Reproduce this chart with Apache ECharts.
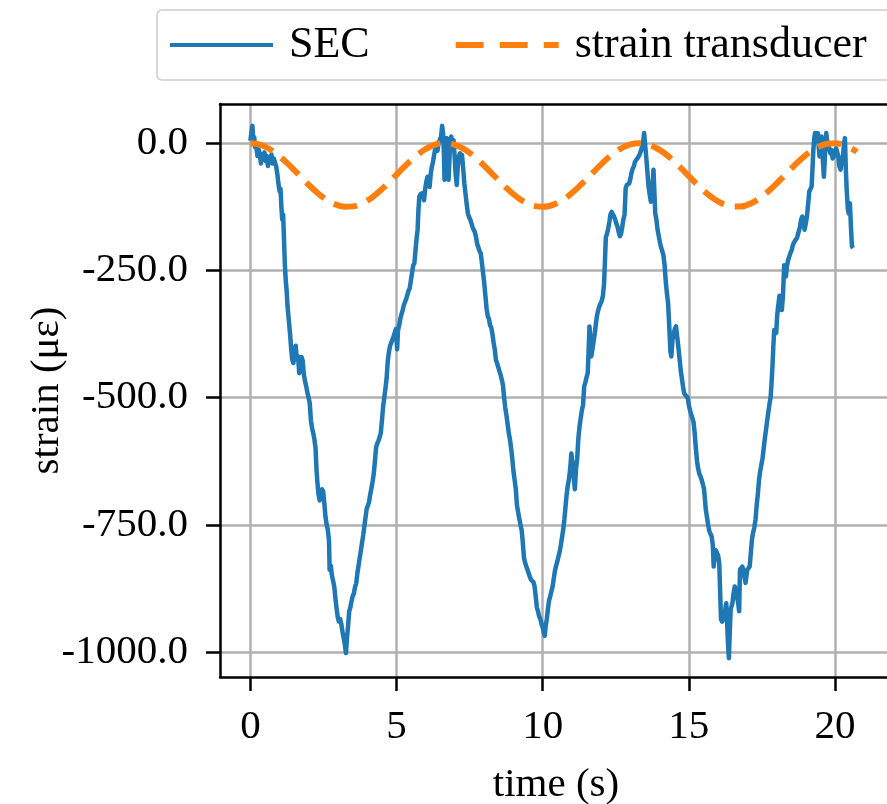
<!DOCTYPE html>
<html>
<head>
<meta charset="utf-8">
<script src="https://cdn.jsdelivr.net/npm/echarts@6/dist/echarts.min.js"></script>
<style>html,body{margin:0;padding:0;background:#fff}#c{width:887px;height:804px}</style>
</head>
<body>
<div id="c"></div>
<script>
const seriesNames = ['SEC', 'strain transducer'];
const xTicks = [0, 5, 10, 15, 20];
const yTicks = [0, -250, -500, -750, -1000];

const secData = [
[0.00,5],[0.03,20],[0.07,34],[0.10,5],[0.13,12],[0.16,-8],[0.20,-4],[0.24,-25],[0.28,-12],[0.32,-20],[0.36,-40],[0.40,-22],[0.44,-30],[0.48,-18],[0.52,-35],[0.56,-25],[0.60,-45],[0.64,-30],[0.68,-38],[0.72,-22],[0.76,-40],[0.80,-30],[0.84,-28],[0.88,-45],[0.92,-60],[0.96,-80],[1.00,-95],[1.03,-90],[1.06,-125],[1.09,-150],[1.12,-140],[1.15,-190],[1.18,-240],[1.21,-270],[1.24,-290],[1.27,-320],[1.31,-345],[1.35,-370],[1.39,-400],[1.43,-425],[1.47,-432],[1.51,-405],[1.55,-398],[1.59,-425],[1.63,-419],[1.67,-452],[1.71,-440],[1.75,-420],[1.79,-428],[1.83,-455],[1.87,-468],[1.91,-478],[1.95,-490],[1.99,-500],[2.03,-511],[2.07,-545],[2.11,-560],[2.15,-570],[2.19,-582],[2.23,-600],[2.26,-640],[2.29,-665],[2.33,-690],[2.37,-702],[2.41,-695],[2.45,-680],[2.49,-685],[2.53,-708],[2.57,-735],[2.61,-750],[2.65,-760],[2.69,-782],[2.71,-838],[2.75,-830],[2.79,-850],[2.83,-860],[2.87,-872],[2.91,-895],[2.95,-915],[2.99,-932],[3.03,-940],[3.07,-935],[3.11,-945],[3.15,-960],[3.19,-972],[3.23,-985],[3.27,-1002],[3.30,-975],[3.34,-950],[3.38,-920],[3.42,-912],[3.46,-900],[3.50,-890],[3.54,-885],[3.58,-872],[3.62,-865],[3.66,-845],[3.70,-830],[3.74,-815],[3.78,-800],[3.82,-785],[3.86,-770],[3.90,-752],[3.94,-735],[3.98,-718],[4.02,-712],[4.06,-705],[4.10,-690],[4.14,-678],[4.18,-665],[4.22,-650],[4.26,-625],[4.30,-598],[4.34,-590],[4.38,-585],[4.42,-578],[4.46,-570],[4.50,-545],[4.54,-518],[4.58,-500],[4.62,-482],[4.66,-462],[4.70,-428],[4.74,-410],[4.78,-398],[4.82,-392],[4.86,-395],[4.90,-380],[4.94,-372],[4.98,-365],[5.02,-405],[5.05,-368],[5.09,-358],[5.13,-345],[5.17,-336],[5.21,-328],[5.25,-318],[5.29,-312],[5.33,-306],[5.37,-298],[5.41,-290],[5.45,-285],[5.49,-270],[5.53,-255],[5.57,-240],[5.61,-236],[5.65,-210],[5.69,-185],[5.72,-170],[5.75,-130],[5.78,-105],[5.82,-100],[5.86,-97],[5.90,-98],[5.94,-112],[5.98,-90],[6.02,-75],[6.06,-66],[6.10,-82],[6.13,-86],[6.17,-60],[6.21,-45],[6.24,-39],[6.28,-25],[6.32,-12],[6.36,-6],[6.40,-15],[6.44,2],[6.48,6],[6.52,12],[6.56,34],[6.59,20],[6.62,-20],[6.64,-72],[6.67,-40],[6.70,5],[6.72,10],[6.75,-30],[6.78,-72],[6.81,-30],[6.84,8],[6.87,13],[6.91,-5],[6.95,6],[6.98,-20],[7.02,-60],[7.06,-82],[7.09,-50],[7.13,-26],[7.17,-20],[7.21,-30],[7.24,-23],[7.28,-50],[7.32,-79],[7.36,-100],[7.40,-120],[7.44,-138],[7.48,-145],[7.52,-150],[7.56,-157],[7.60,-165],[7.64,-168],[7.68,-175],[7.72,-185],[7.76,-198],[7.80,-205],[7.84,-212],[7.88,-216],[7.92,-235],[7.96,-255],[8.00,-275],[8.04,-300],[8.08,-325],[8.12,-340],[8.16,-345],[8.20,-358],[8.24,-362],[8.28,-375],[8.32,-392],[8.36,-405],[8.40,-426],[8.44,-432],[8.48,-440],[8.52,-448],[8.56,-455],[8.60,-465],[8.64,-475],[8.68,-500],[8.72,-520],[8.76,-535],[8.80,-552],[8.84,-570],[8.88,-582],[8.92,-600],[8.96,-620],[9.00,-645],[9.04,-662],[9.08,-680],[9.12,-712],[9.16,-725],[9.20,-738],[9.24,-750],[9.28,-760],[9.32,-785],[9.36,-815],[9.40,-825],[9.44,-832],[9.48,-838],[9.52,-845],[9.56,-852],[9.60,-858],[9.64,-860],[9.68,-862],[9.72,-870],[9.76,-890],[9.80,-912],[9.84,-920],[9.88,-930],[9.92,-935],[9.96,-945],[10.00,-952],[10.04,-962],[10.07,-968],[10.10,-950],[10.14,-935],[10.18,-915],[10.22,-898],[10.26,-890],[10.30,-880],[10.34,-871],[10.38,-855],[10.42,-840],[10.46,-830],[10.50,-822],[10.54,-812],[10.58,-803],[10.62,-790],[10.66,-775],[10.70,-760],[10.74,-740],[10.78,-715],[10.82,-690],[10.86,-672],[10.90,-660],[10.94,-640],[10.98,-610],[11.02,-630],[11.06,-655],[11.10,-680],[11.14,-640],[11.18,-620],[11.22,-580],[11.26,-557],[11.30,-540],[11.34,-525],[11.38,-515],[11.42,-478],[11.46,-470],[11.50,-460],[11.54,-452],[11.57,-410],[11.60,-360],[11.63,-380],[11.66,-419],[11.70,-405],[11.74,-390],[11.78,-375],[11.82,-355],[11.86,-338],[11.90,-328],[11.94,-320],[11.98,-315],[12.02,-310],[12.06,-300],[12.10,-275],[12.13,-230],[12.16,-185],[12.20,-178],[12.24,-168],[12.28,-155],[12.32,-140],[12.36,-135],[12.40,-140],[12.44,-144],[12.48,-150],[12.52,-158],[12.56,-164],[12.60,-175],[12.64,-183],[12.68,-178],[12.72,-165],[12.76,-150],[12.80,-140],[12.84,-88],[12.88,-82],[12.92,-84],[12.96,-79],[13.00,-70],[13.04,-58],[13.08,-50],[13.12,-45],[13.16,-36],[13.20,-33],[13.24,-30],[13.28,-26],[13.32,-22],[13.36,-15],[13.40,-7],[13.44,5],[13.47,20],[13.50,0],[13.54,-26],[13.58,-55],[13.62,-85],[13.66,-100],[13.70,-115],[13.73,-118],[13.76,-80],[13.79,-52],[13.82,-95],[13.85,-138],[13.89,-150],[13.93,-170],[13.97,-182],[14.01,-195],[14.05,-205],[14.09,-212],[14.13,-220],[14.17,-240],[14.21,-272],[14.25,-295],[14.29,-315],[14.33,-360],[14.37,-410],[14.40,-419],[14.44,-386],[14.48,-375],[14.52,-365],[14.56,-360],[14.60,-380],[14.64,-400],[14.68,-422],[14.72,-445],[14.76,-462],[14.80,-478],[14.84,-491],[14.88,-495],[14.92,-498],[14.96,-500],[15.00,-515],[15.04,-525],[15.08,-533],[15.12,-540],[15.16,-548],[15.20,-570],[15.24,-600],[15.28,-625],[15.32,-640],[15.36,-650],[15.40,-655],[15.44,-662],[15.48,-670],[15.52,-680],[15.55,-700],[15.58,-720],[15.62,-735],[15.66,-750],[15.70,-762],[15.74,-768],[15.78,-773],[15.82,-790],[15.85,-832],[15.88,-815],[15.92,-800],[15.96,-799],[16.00,-810],[16.04,-825],[16.07,-880],[16.10,-936],[16.14,-940],[16.18,-943],[16.22,-930],[16.26,-910],[16.28,-904],[16.31,-943],[16.34,-985],[16.37,-1012],[16.40,-960],[16.43,-917],[16.46,-910],[16.49,-904],[16.53,-885],[16.57,-871],[16.61,-878],[16.65,-891],[16.69,-905],[16.72,-920],[16.75,-838],[16.79,-835],[16.83,-832],[16.87,-840],[16.91,-855],[16.94,-864],[16.97,-850],[17.00,-838],[17.04,-835],[17.08,-832],[17.12,-805],[17.16,-778],[17.20,-765],[17.24,-755],[17.28,-740],[17.32,-712],[17.36,-690],[17.40,-662],[17.44,-645],[17.48,-632],[17.52,-620],[17.56,-600],[17.60,-580],[17.64,-563],[17.68,-545],[17.72,-528],[17.76,-512],[17.80,-498],[17.83,-470],[17.86,-439],[17.89,-400],[17.92,-367],[17.96,-370],[17.99,-373],[18.02,-340],[18.06,-318],[18.10,-300],[18.14,-310],[18.18,-328],[18.22,-300],[18.26,-240],[18.29,-250],[18.32,-262],[18.36,-240],[18.40,-229],[18.44,-222],[18.48,-215],[18.52,-210],[18.56,-200],[18.60,-195],[18.65,-190],[18.70,-186],[18.76,-183],[18.80,-165],[18.84,-150],[18.88,-144],[18.92,-155],[18.96,-170],[19.00,-158],[19.04,-144],[19.08,-120],[19.12,-95],[19.16,-90],[19.20,-85],[19.23,-50],[19.26,-13],[19.29,10],[19.32,20],[19.35,5],[19.38,15],[19.41,20],[19.44,-5],[19.47,-26],[19.50,-5],[19.54,13],[19.58,-30],[19.62,-66],[19.66,-20],[19.70,20],[19.74,0],[19.79,-7],[19.84,-20],[19.88,-13],[19.92,-30],[19.96,-26],[20.00,-15],[20.04,-10],[20.07,-7],[20.11,-25],[20.15,-45],[20.19,-52],[20.23,-35],[20.27,-26],[20.31,0],[20.34,10],[20.37,-50],[20.40,-92],[20.44,-130],[20.47,-138],[20.51,-118],[20.55,-170],[20.58,-203],[20.62,-206]
];

const trTime = [0,0.25,0.5,0.75,1,1.25,1.5,1.75,2,2.25,2.5,2.75,3,3.25,3.5,3.75,4,4.25,4.5,4.75,5,5.25,5.5,5.75,6,6.25,6.5,6.75,7,7.25,7.5,7.75,8,8.25,8.5,8.75,9,9.25,9.5,9.75,10,10.25,10.5,10.75,11,11.25,11.5,11.75,12,12.25,12.5,12.75,13,13.25,13.5,13.75,14,14.25,14.5,14.75,15,15.25,15.5,15.75,16,16.25,16.5,16.75,17,17.25,17.5,17.75,18,18.25,18.5,18.75,19,19.25,19.5,19.75,20,20.25,20.5,20.75];
const trValues = [0,-1.7,-6.8,-15.1,-25.9,-38.8,-52.9,-67.6,-82.1,-95.4,-106.9,-116.0,-122.1,-124.9,-124.2,-120.1,-112.8,-102.6,-90.3,-76.4,-61.8,-47.2,-33.4,-21.3,-11.4,-4.4,-0.6,-0.3,-3.4,-9.8,-19.1,-30.8,-44.3,-58.8,-73.5,-87.6,-100.3,-111.0,-118.8,-123.6,-125.0,-122.9,-117.5,-109.0,-97.9,-84.9,-70.6,-55.9,-41.5,-28.3,-17.0,-8.3,-2.5,-0.1,-1.1,-5.6,-13.2,-23.5,-36.1,-50.1,-64.7,-79.3,-92.9,-104.8,-114.4,-121.1,-124.6,-124.6,-121.1,-114.4,-104.8,-92.9,-79.3,-64.7,-50.1,-36.1,-23.6,-13.2,-5.6,-1.1,-0.1,-2.5,-8.3,-17.0];

const FONT = 'Liberation Serif';
const X_MIN = -1.04, X_MAX = 21.95;
const trData = trTime.map((t, i) => [t, trValues[i]]);

const chart = echarts.init(document.getElementById('c'), null, {renderer: 'canvas'});
chart.setOption({
  animation: false,
  backgroundColor: '#ffffff',
  textStyle: {fontFamily: FONT},
  legend: {
    left: 157, top: 10, width: 800,
    orient: 'horizontal',
    itemWidth: 103, itemHeight: 20, itemGap: 83,
    padding: [13, 25, 13, 11],
    borderColor: '#cccccc', borderWidth: 1.5, borderRadius: 5,
    backgroundColor: '#ffffff',
    itemStyle: {opacity: 0},
    textStyle: {fontFamily: FONT, fontSize: 44, color: '#000', padding: [0, 0, 0, 11]},
    data: [
      {name: seriesNames[0], itemStyle: {opacity: 0}, lineStyle: {width: 4, color: '#1f77b4', type: 'solid'}},
      {name: seriesNames[1], itemStyle: {opacity: 0}, lineStyle: {width: 6, color: '#ff7f0e', type: [28, 16]}}
    ]
  },
  grid: {
    left: 220, top: 104, width: 672, height: 573,
    outerBoundsMode: 'none',
    show: false,
    containLabel: false
  },
  xAxis: [
    {
      type: 'value', min: X_MIN, max: X_MAX, position: 'bottom',
      name: 'time (s)', nameLocation: 'middle', nameGap: 88, nameMoveOverlap: false,
      nameTextStyle: {fontFamily: FONT, fontSize: 41, color: '#000'},
      axisLine: {show: true, onZero: false, lineStyle: {color: '#000', width: 2.5}},
      axisTick: {show: true, length: 14, inside: false, lineStyle: {color: '#000', width: 2.5}, customValues: xTicks},
      axisLabel: {fontFamily: FONT, fontSize: 41, color: '#000', margin: 30, customValues: xTicks, formatter: v => String(v)},
      splitLine: {show: true, lineStyle: {color: '#b0b0b0', width: 2.5}}
    },
    {
      type: 'value', min: X_MIN, max: X_MAX, position: 'top',
      axisLine: {show: true, onZero: false, lineStyle: {color: '#000', width: 2.5}},
      axisTick: {show: false}, axisLabel: {show: false}, splitLine: {show: false}
    }
  ],
  yAxis: {
    type: 'value', min: -1049, max: 77,
    name: 'strain (με)', nameLocation: 'middle', nameGap: 152, nameRotate: 90, nameMoveOverlap: false,
    nameTextStyle: {fontFamily: FONT, fontSize: 41, color: '#000'},
    axisLine: {show: true, onZero: false, lineStyle: {color: '#000', width: 2.5}},
    axisTick: {show: true, length: 14, inside: false, lineStyle: {color: '#000', width: 2.5}, customValues: yTicks},
    axisLabel: {fontFamily: FONT, fontSize: 41, color: '#000', margin: 32, padding: [7, 0, 0, 0], customValues: yTicks, formatter: v => v.toFixed(1)},
    splitLine: {show: true, lineStyle: {color: '#b0b0b0', width: 2.5}}
  },
  series: [
    {
      name: seriesNames[0], type: 'line', data: secData, xAxisIndex: 0,
      symbol: 'none', showSymbol: false, smooth: false, sampling: 'none',
      color: '#1f77b4',
      lineStyle: {color: '#1f77b4', width: 4.5, join: 'round'},
      z: 2
    },
    {
      name: seriesNames[1], type: 'line', data: trData, xAxisIndex: 0,
      symbol: 'none', showSymbol: false, smooth: true,
      color: '#ff7f0e',
      lineStyle: {color: '#ff7f0e', width: 6, type: [24, 11]},
      z: 3
    }
  ]
});
</script>
</body>
</html>
